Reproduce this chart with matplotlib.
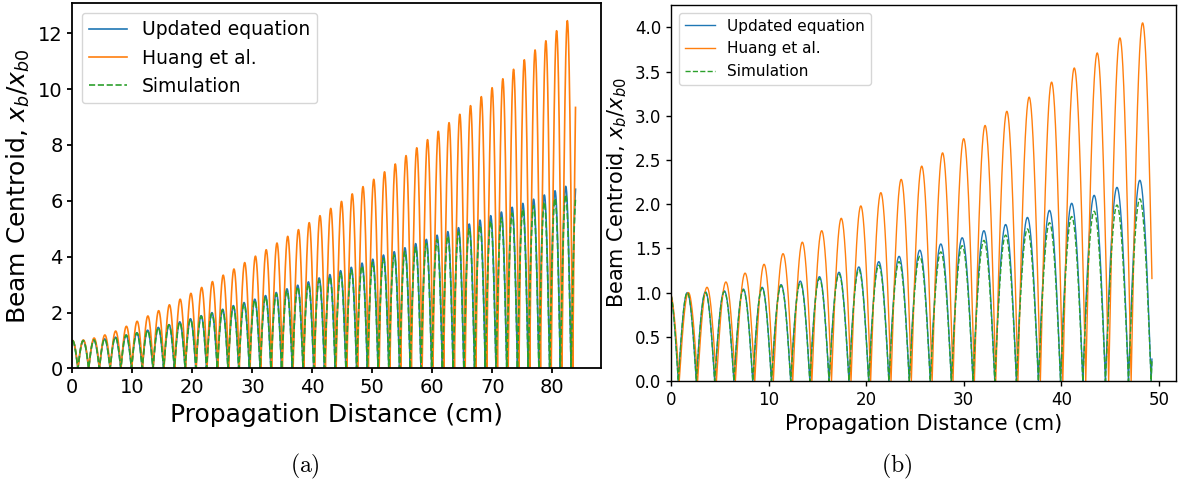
import numpy as np
import matplotlib
matplotlib.use("Agg")
import matplotlib.pyplot as plt

# ---- (a) long run, 0 - 84 cm ----
a_end = 83.85
# zero crossings of the centroid (first entry sits just before z = 0)
a_huang_zeros = [-0.84, 0.95, 2.74, 4.53, 6.33, 8.12, 9.91, 11.70, 13.49, 15.29,
                 17.08, 18.87, 20.66, 22.45, 24.25, 26.04, 27.83, 29.62, 31.41, 33.21,
                 35.00, 36.79, 38.58, 40.37, 42.17, 43.96, 45.75, 47.54, 49.33, 51.13,
                 52.92, 54.71, 56.50, 58.29, 60.09, 61.88, 63.67, 65.46, 67.25, 69.05,
                 70.84, 72.63, 74.42, 76.21, 78.01, 79.80, 81.59, 83.38, 85.17]
a_upd_zeros = [-0.86, 0.93, 2.72, 4.50, 6.29, 8.08, 9.86, 11.65, 13.44, 15.22,
               17.01, 18.80, 20.58, 22.37, 24.16, 25.94, 27.73, 29.51, 31.30, 33.09,
               34.87, 36.66, 38.45, 40.23, 42.02, 43.81, 45.59, 47.38, 49.17, 50.95,
               52.74, 54.53, 56.31, 58.10, 59.88, 61.67, 63.46, 65.24, 67.03, 68.82,
               70.60, 72.39, 74.18, 75.96, 77.75, 79.54, 81.32, 83.11, 84.90]
a_sim_zeros = a_upd_zeros

# peak of each lobe between consecutive zeros
a_huang_peaks = [1.0,
                 1.02, 1.09, 1.20, 1.34, 1.51, 1.69, 1.88, 2.07, 2.28, 2.48,
                 2.69, 2.90, 3.11, 3.34, 3.56, 3.79, 4.02, 4.25, 4.49, 4.73,
                 4.97, 5.22, 5.47, 5.73, 5.98, 6.25, 6.51, 6.77, 7.04, 7.32,
                 7.62, 7.90, 8.19, 8.49, 8.80, 9.10, 9.41, 9.73, 10.05, 10.37,
                 10.71, 11.05, 11.40, 11.73, 12.09, 12.45,
                 12.80]
a_upd_peaks = [1.0,
               1.00, 1.02, 1.06, 1.12, 1.20, 1.28, 1.37, 1.47, 1.57, 1.67,
               1.78, 1.89, 2.00, 2.12, 2.25, 2.36, 2.48, 2.61, 2.72, 2.85,
               2.98, 3.10, 3.24, 3.36, 3.50, 3.62, 3.77, 3.91, 4.06, 4.18,
               4.32, 4.47, 4.62, 4.77, 4.90, 5.04, 5.17, 5.31, 5.47, 5.60,
               5.77, 5.91, 6.06, 6.21, 6.36, 6.52,
               6.67]
a_sim_peaks = [1.0,
               1.00, 1.02, 1.06, 1.12, 1.19, 1.27, 1.36, 1.46, 1.56, 1.65,
               1.76, 1.87, 1.97, 2.09, 2.21, 2.32, 2.44, 2.56, 2.67, 2.79,
               2.92, 3.03, 3.16, 3.28, 3.41, 3.53, 3.67, 3.80, 3.94, 4.06,
               4.19, 4.33, 4.47, 4.61, 4.74, 4.88, 5.00, 5.13, 5.28, 5.40,
               5.56, 5.70, 5.83, 5.96, 6.09, 6.22,
               6.35]

# ---- (b) short run, 0 - 49 cm ----
b_end = 49.3
b_huang_zeros = [-1.1, 0.85, 2.73, 4.66, 6.60, 8.59, 10.49, 12.48, 14.44, 16.45,
                 18.45, 20.46, 22.55, 24.63, 26.76, 28.90, 31.09, 33.28, 35.55, 37.85,
                 40.15, 42.50, 44.85, 47.15, 49.50]
b_upd_zeros = [-1.0, 0.75, 2.60, 4.48, 6.45, 8.38, 10.30, 12.27, 14.23, 16.20,
               18.24, 20.26, 22.33, 24.42, 26.57, 28.73, 30.95, 33.18, 35.40, 37.65,
               39.92, 42.20, 44.52, 46.88, 49.20, 51.60]
b_sim_zeros = b_upd_zeros

b_huang_peaks = [1.0,
                 1.00, 1.06, 1.12, 1.22, 1.32, 1.44, 1.57, 1.70, 1.84, 1.98,
                 2.13, 2.28, 2.43, 2.58, 2.74, 2.89, 3.05, 3.21, 3.38, 3.54,
                 3.71, 3.88, 4.05]
b_upd_peaks = [1.0,
               1.00, 1.01, 1.02, 1.04, 1.06, 1.09, 1.13, 1.18, 1.23, 1.29,
               1.35, 1.41, 1.48, 1.55, 1.62, 1.70, 1.77, 1.85, 1.93, 2.01,
               2.10, 2.19, 2.27,
               2.35]
b_sim_peaks = [1.0,
               1.00, 1.00, 1.01, 1.03, 1.05, 1.08, 1.11, 1.16, 1.21, 1.26,
               1.31, 1.35, 1.41, 1.46, 1.53, 1.59, 1.65, 1.72, 1.79, 1.86,
               1.92, 1.99, 2.06,
               2.12]

labels = ["Updated equation", "Huang et al.", "Simulation"]


def centroid(zeros, peaks, x_end, n=120):
    # each lobe is a half sine between two zero crossings
    xs, ys = [], []
    for i in range(len(peaks)):
        z0, z1 = zeros[i], zeros[i + 1]
        x = np.linspace(z0, z1, n)
        xs.append(x)
        ys.append(peaks[i] * np.sin(np.pi * (x - z0) / (z1 - z0)))
    x = np.concatenate(xs)
    y = np.abs(np.concatenate(ys))
    keep = (x >= 0) & (x <= x_end)
    return x[keep], y[keep]


def draw(ax, data, x_end, lw, fs_tick, fs_label, fs_leg, spine_w):
    colors = ["tab:blue", "tab:orange", "tab:green"]
    styles = ["-", "-", "--"]
    for (zeros, peaks), c, ls, lab in zip(data, colors, styles, labels):
        x, y = centroid(zeros, peaks, x_end)
        ax.plot(x, y, color=c, ls=ls, lw=lw, label=lab)
    ax.set_xlim(left=0)
    ax.set_ylim(bottom=0)
    ax.set_xlabel("Propagation Distance (cm)", fontsize=fs_label)
    ax.set_ylabel("Beam Centroid, $x_b/x_{b0}$", fontsize=fs_label)
    ax.tick_params(labelsize=fs_tick, width=spine_w)
    for s in ax.spines.values():
        s.set_linewidth(spine_w)
    ax.legend(loc="upper left", fontsize=fs_leg)


fig = plt.figure(figsize=(11.85, 4.86), dpi=100)
ax1 = fig.add_axes([0.0610, 0.2418, 0.4459, 0.7514])
ax2 = fig.add_axes([0.5662, 0.2160, 0.4262, 0.7737])

draw(ax1, [(a_upd_zeros, a_upd_peaks), (a_huang_zeros, a_huang_peaks), (a_sim_zeros, a_sim_peaks)],
     a_end, 1.2, 14, 18, 13.5, 1.3)
draw(ax2, [(b_upd_zeros, b_upd_peaks), (b_huang_zeros, b_huang_peaks), (b_sim_zeros, b_sim_peaks)],
     b_end, 1.0, 12, 15, 11, 1.0)
ax2.set_yticks(np.arange(0, 4.01, 0.5))

fig.text(0.2574, 0.04, r"$\mathrm{(a)}$", ha="center", va="center", fontsize=17, math_fontfamily="cm")
fig.text(0.7570, 0.04, r"$\mathrm{(b)}$", ha="center", va="center", fontsize=17, math_fontfamily="cm")

fig.savefig("out.png", dpi=100)
